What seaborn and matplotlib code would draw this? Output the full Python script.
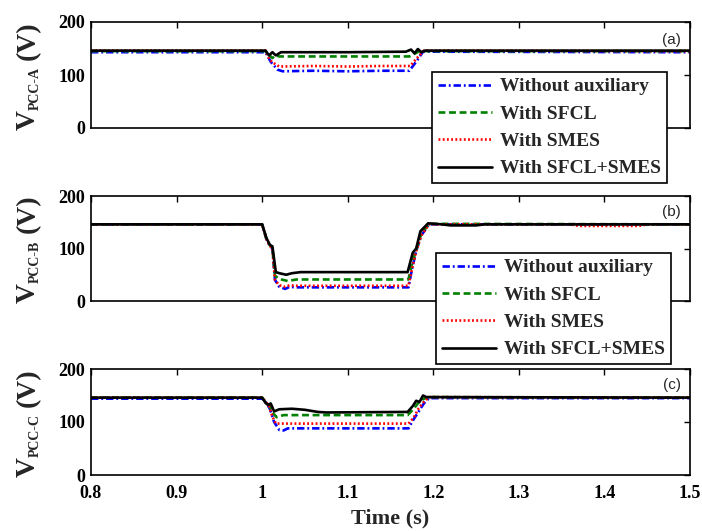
import matplotlib
matplotlib.use("Agg")
import matplotlib.pyplot as plt
import seaborn as sns
import pandas as pd
from matplotlib.ticker import FixedLocator, FixedFormatter

# ---------------- data ----------------
series = ["Without auxiliary", "With SFCL", "With SMES", "With SFCL+SMES"]
colors = ["#0000ff", "#008000", "#ff0000", "#000000"]

# Panel (a) V_PCC-A
a_blue_t = [0.8, 1.004, 1.010, 1.018, 1.024, 1.06, 1.10, 1.14, 1.172, 1.180, 1.188, 1.5]
a_blue_v = [143, 143, 125, 110, 107, 108, 107, 108, 108, 125, 144, 143]
a_green_t = [0.8, 1.004, 1.008, 1.012, 1.016, 1.02, 1.172, 1.178, 1.184, 1.5]
a_green_v = [145, 145, 138, 132, 137, 135, 135, 140, 145, 145]
a_red_t = [0.8, 1.004, 1.009, 1.014, 1.02, 1.06, 1.10, 1.14, 1.173, 1.181, 1.189, 1.5]
a_red_v = [146, 146, 128, 122, 116, 117, 116, 117, 117, 132, 146, 145]
a_black_t = [0.8, 1.004, 1.008, 1.012, 1.016, 1.022, 1.10, 1.168, 1.174, 1.178, 1.182, 1.186, 1.19, 1.5]
a_black_v = [146, 146, 137, 143, 137, 143, 143, 144, 148, 141, 149, 143, 146, 146]

# Panel (b) V_PCC-B
b_blue_t = [0.8, 1.0, 1.005, 1.009, 1.012, 1.015, 1.02, 1.027, 1.032, 1.04, 1.171, 1.175, 1.18, 1.186, 1.195, 1.5]
b_blue_v = [146, 146, 118, 105, 100, 40, 27, 23, 27, 26, 26, 60, 95, 125, 146, 146]
b_green_t = [0.8, 1.0, 1.005, 1.009, 1.012, 1.015, 1.02, 1.03, 1.04, 1.171, 1.175, 1.18, 1.186, 1.195, 1.5]
b_green_v = [146, 146, 118, 106, 101, 48, 42, 38, 41, 41, 70, 97, 128, 147, 146]
b_red_t = [0.8, 1.0, 1.005, 1.009, 1.012, 1.015, 1.02, 1.027, 1.032, 1.04, 1.171, 1.175, 1.18, 1.186, 1.195, 1.36, 1.37, 1.44, 1.45, 1.5]
b_red_v = [146, 146, 118, 105, 100, 40, 30, 27, 30, 29, 29, 60, 95, 125, 146, 146, 143, 143, 146, 146]
b_black_t = [0.8, 1.0, 1.005, 1.009, 1.012, 1.016, 1.02, 1.028, 1.035, 1.045, 1.17, 1.176, 1.18, 1.185, 1.194, 1.21, 1.22, 1.25, 1.26, 1.5]
b_black_v = [146, 146, 120, 107, 104, 55, 53, 50, 53, 55, 55, 92, 100, 133, 148, 146, 144, 144, 146, 146]

# Panel (c) V_PCC-C
c_blue_t = [0.8, 1.0, 1.004, 1.009, 1.014, 1.02, 1.025, 1.03, 1.171, 1.177, 1.183, 1.189, 1.195, 1.5]
c_blue_v = [144, 144, 138, 125, 100, 85, 84, 88, 88, 105, 120, 135, 145, 145]
c_green_t = [0.8, 1.0, 1.004, 1.008, 1.012, 1.017, 1.025, 1.17, 1.176, 1.182, 1.188, 1.194, 1.5]
c_green_v = [146, 146, 138, 133, 118, 109, 113, 113, 123, 135, 143, 147, 146]
c_red_t = [0.8, 1.0, 1.004, 1.008, 1.012, 1.016, 1.171, 1.177, 1.183, 1.189, 1.195, 1.5]
c_red_v = [146, 146, 138, 130, 110, 97, 97, 108, 126, 138, 147, 146]
c_black_t = [0.8, 1.0, 1.004, 1.007, 1.01, 1.014, 1.02, 1.035, 1.05, 1.065, 1.075, 1.17, 1.176, 1.18, 1.184, 1.188, 1.192, 1.5]
c_black_v = [146, 146, 136, 132, 135, 120, 124, 125, 123, 119, 118, 119, 130, 140, 138, 150, 147, 146]

panel_tags = ["(a)", "(b)", "(c)"]
panel_subs = ["PCC-A", "PCC-B", "PCC-C"]
x_ticks = [0.8, 0.9, 1.0, 1.1, 1.2, 1.3, 1.4, 1.5]
x_tick_labels = ["0.8", "0.9", "1", "1.1", "1.2", "1.3", "1.4", "1.5"]
y_ticks = [0, 100, 200]
y_tick_labels = ["0", "100", "200"]

panels = [
    [(a_blue_t, a_blue_v), (a_green_t, a_green_v), (a_red_t, a_red_v), (a_black_t, a_black_v)],
    [(b_blue_t, b_blue_v), (b_green_t, b_green_v), (b_red_t, b_red_v), (b_black_t, b_black_v)],
    [(c_blue_t, c_blue_v), (c_green_t, c_green_v), (c_red_t, c_red_v), (c_black_t, c_black_v)],
]

# ---------------- style ----------------
sns.set_theme(style="white")
plt.rcParams["font.family"] = ["Liberation Serif", "DejaVu Serif"]
plt.rcParams["font.weight"] = "bold"
plt.rcParams["axes.labelweight"] = "bold"

palette = dict(zip(series, colors))
dashes = {
    "Without auxiliary": (2.8, 1.1, 0.7, 1.1),
    "With SFCL": (2.6, 1.4),
    "With SMES": (0.7, 0.9),
    "With SFCL+SMES": "",
}

W, H = 702, 531
fig = plt.figure(figsize=(W / 100, H / 100), dpi=100)
ax_px = [(22, 128), (196, 301), (369, 475)]
left_px, right_px = 91, 690

axes = []
for i, (top, bot) in enumerate(ax_px):
    ax = fig.add_axes([left_px / W, 1 - bot / H, (right_px - left_px) / W, (bot - top) / H])
    rows = []
    for name, (t, v) in zip(series, panels[i]):
        rows.append(pd.DataFrame({"t": t, "v": v, "series": name}))
    df = pd.concat(rows, ignore_index=True)
    sns.lineplot(data=df, x="t", y="v", hue="series", style="series",
                 hue_order=series, style_order=series, palette=palette,
                 dashes=dashes, estimator=None, sort=False, linewidth=1.9,
                 legend=False, ax=ax)
    ax.set_xlim(0.8, 1.5)
    ax.set_ylim(0, 200)
    ax.xaxis.set_major_locator(FixedLocator(x_ticks))
    ax.yaxis.set_major_locator(FixedLocator(y_ticks))
    ax.yaxis.set_major_formatter(FixedFormatter(y_tick_labels))
    if i == 2:
        ax.xaxis.set_major_formatter(FixedFormatter(x_tick_labels))
    else:
        ax.set_xticklabels([])
    ax.set_xlabel("")
    ax.set_ylabel("")
    ax.tick_params(direction="in", top=True, right=True, length=4, width=1,
                   labelsize=13, pad=4, colors="black")
    ax.tick_params(axis="x", pad=7)
    for lab in ax.get_xticklabels() + ax.get_yticklabels():
        lab.set_fontweight("bold")
    for s in ax.spines.values():
        s.set_linewidth(1.2)
        s.set_color("black")
    ax.text(0.985, 0.83 if i == 0 else 0.85, panel_tags[i], transform=ax.transAxes,
            ha="right", va="center", fontsize=11, fontweight="normal",
            family="Liberation Sans")
    # y label pieces
    fig.text(28 / W, 1 - (bot + 2) / H, "V", rotation=90, ha="center", va="bottom",
             fontsize=20, fontweight="bold")
    fig.text(35 / W, 1 - (bot - 18) / H, panel_subs[i], rotation=90, ha="center",
             va="bottom", fontsize=10, fontweight="bold")
    fig.text(28 / W, 1 - (bot - 68) / H, "(V)", rotation=90, ha="center", va="bottom",
             fontsize=20, fontweight="bold")
    axes.append(ax)

axes[2].set_xlabel("Time (s)", fontsize=16, fontweight="bold", labelpad=5)

handles = axes[0].lines[:4]
for anchor in [(432, 72), (436, 253)]:
    leg = fig.legend(handles, series, loc="upper left",
                     bbox_to_anchor=(anchor[0] / W, 1 - anchor[1] / H),
                     bbox_transform=fig.transFigure, borderaxespad=0,
                     frameon=True, fancybox=False, framealpha=1, edgecolor="black",
                     prop=dict(family="Liberation Serif", weight="bold", size=14),
                     handlelength=2.8, handletextpad=0.4, labelspacing=0.5,
                     borderpad=0.3)
    leg.get_frame().set_linewidth(1.2)

fig.savefig("out.png", dpi=100)
